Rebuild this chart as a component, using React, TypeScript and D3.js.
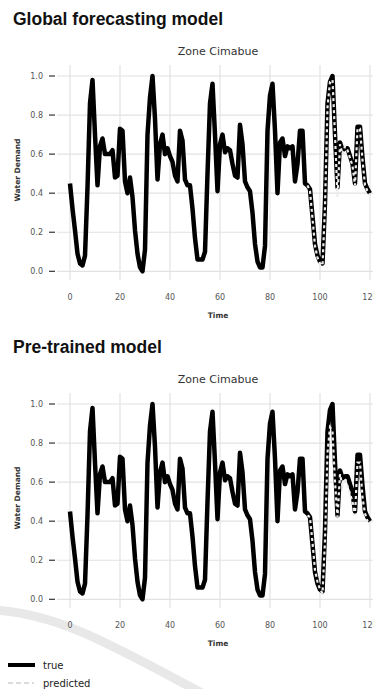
import * as d3 from "d3";

// hourly water demand, zone Cimabue (normalised), t = 0..120
const trueDemand = [
  0.45, 0.32, 0.21, 0.09, 0.04, 0.03, 0.08, 0.43, 0.86, 0.98,
  0.70, 0.44, 0.64, 0.68, 0.60, 0.60, 0.60, 0.62, 0.48, 0.49,
  0.73, 0.72, 0.46, 0.40, 0.48, 0.38, 0.21, 0.09, 0.02, 0.00,
  0.11, 0.70, 0.89, 1.00, 0.78, 0.47, 0.65, 0.70, 0.60, 0.63,
  0.59, 0.56, 0.49, 0.46, 0.72, 0.67, 0.47, 0.44, 0.44, 0.32,
  0.17, 0.06, 0.06, 0.06, 0.10, 0.50, 0.86, 0.96, 0.70, 0.41,
  0.65, 0.70, 0.61, 0.63, 0.62, 0.55, 0.49, 0.48, 0.75, 0.65,
  0.46, 0.43, 0.41, 0.30, 0.14, 0.05, 0.02, 0.02, 0.13, 0.72,
  0.90, 0.96, 0.72, 0.40, 0.66, 0.68, 0.59, 0.64, 0.63, 0.64,
  0.46, 0.55, 0.72, 0.72, 0.45, 0.44, 0.42, 0.28, 0.14, 0.08,
  0.05, 0.04, 0.35, 0.86, 0.97, 1.00, 0.70, 0.43, 0.66, 0.62,
  0.63, 0.63, 0.59, 0.55, 0.45, 0.74, 0.74, 0.58, 0.45, 0.42,
  0.40,
];

// forecasts start at t = 95
const predStart = 95;
const predictedGlobal = [
  0.44, 0.41, 0.27, 0.13, 0.07, 0.04, 0.03, 0.33, 0.84, 0.97,
  0.98, 0.70, 0.38, 0.65, 0.60, 0.64, 0.62, 0.58, 0.54, 0.44,
  0.73, 0.73, 0.57, 0.44, 0.41, 0.39,
];
const predictedPretrained = [
  0.43, 0.42, 0.29, 0.15, 0.09, 0.05, 0.03, 0.30, 0.75, 0.88,
  0.86, 0.60, 0.42, 0.64, 0.58, 0.62, 0.58, 0.54, 0.50, 0.43,
  0.70, 0.70, 0.52, 0.44, 0.40, 0.39,
];

const xTicks = [0, 20, 40, 60, 80, 100, 120];
const yTicks = [0, 0.2, 0.4, 0.6, 0.8, 1.0];

const tickFont = "DejaVu Sans, Verdana, sans-serif";
const titleFont = "Liberation Sans, Arial, Helvetica, sans-serif";

function Panel({ top, title, predicted }: { top: number; title: string; predicted: number[] }) {
  const x = d3.scaleLinear().domain([0, 120]).range([70, 370]);
  const y = d3.scaleLinear().domain([0, 1]).range([top + 271.3, top + 76]);

  const line = d3
    .line<number>()
    .x((_, i) => x(i))
    .y((d) => y(d));
  const predLine = d3
    .line<number>()
    .x((_, i) => x(i + predStart))
    .y((d) => y(d));

  return (
    <g>
      <text x={13} y={top + 25} fontFamily={titleFont} fontWeight="bold" fontSize={17.5} fill="#111">
        {title}
      </text>
      <text x={218} y={top + 55} fontFamily={tickFont} fontSize={11} textAnchor="middle" fill="#333">
        Zone Cimabue
      </text>

      {/* grid */}
      {yTicks.map((t) => (
        <line key={"h" + t} x1={57} x2={380} y1={y(t)} y2={y(t)} stroke="#e2e2e2" strokeWidth={1.2} />
      ))}
      {xTicks.map((t) => (
        <line key={"v" + t} x1={x(t)} x2={x(t)} y1={top + 65} y2={top + 280} stroke="#e2e2e2" strokeWidth={1.2} />
      ))}

      {/* y ticks */}
      {yTicks.map((t) => (
        <g key={"yt" + t}>
          <line x1={49} x2={55} y1={y(t)} y2={y(t)} stroke="#333" strokeWidth={1.2} />
          <text x={43} y={y(t)} dy="0.35em" textAnchor="end" fontFamily={tickFont} fontSize={8} fill="#555">
            {d3.format(".1f")(t)}
          </text>
        </g>
      ))}
      {xTicks.map((t) => (
        <text key={"xt" + t} x={x(t)} y={top + 300} textAnchor="middle" fontFamily={tickFont} fontSize={8} fill="#555">
          {t}
        </text>
      ))}

      <text x={218} y={top + 318} textAnchor="middle" fontFamily={tickFont} fontWeight="bold" fontSize={7.5} fill="#333">
        Time
      </text>
      <text
        transform={`translate(20, ${top + 170}) rotate(-90)`}
        textAnchor="middle"
        fontFamily={tickFont}
        fontWeight="bold"
        fontSize={7.5}
        fill="#333"
      >
        Water Demand
      </text>

      <path d={line(trueDemand) ?? ""} fill="none" stroke="#000" strokeWidth={4.5} strokeLinejoin="round" />
      <path
        d={predLine(predicted) ?? ""}
        fill="none"
        stroke="#ececec"
        strokeWidth={2.2}
        strokeDasharray="3,3"
      />
    </g>
  );
}

export default function App() {
  return (
    <div style={{ position: "absolute", left: 0, top: 0 }}>
      <svg width={373} height={689} style={{ display: "block", background: "#fff" }}>
        {/* faint watermark swoosh */}
        <path d="M -10 610 C 60 612, 120 650, 215 700" fill="none" stroke="#e8e8e8" strokeWidth={9} />

        <Panel top={0} title="Global forecasting model" predicted={predictedGlobal} />
        <Panel top={328} title="Pre-trained model" predicted={predictedPretrained} />

        {/* legend */}
        <line x1={8} x2={35} y1={665} y2={665} stroke="#000" strokeWidth={4} />
        <text x={43} y={668.5} fontFamily={tickFont} fontSize={10} fill="#222">true</text>
        <line x1={8} x2={34} y1={683} y2={683} stroke="#d0d0d0" strokeWidth={1.5} strokeDasharray="5,3" />
        <text x={43} y={686.5} fontFamily={tickFont} fontSize={10} fill="#222">predicted</text>
      </svg>
    </div>
  );
}
